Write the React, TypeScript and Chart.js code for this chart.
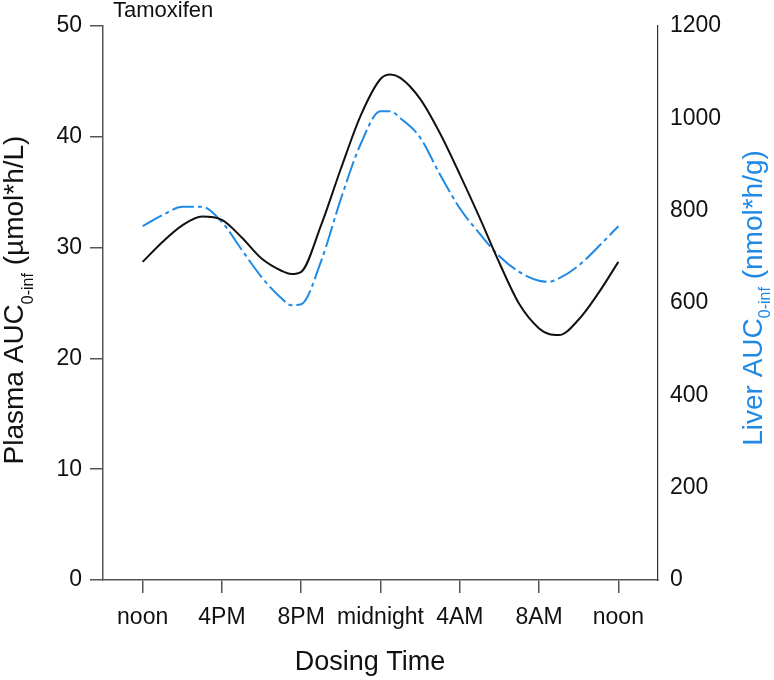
import React, { useEffect, useRef } from "react";
import { Chart, registerables } from "chart.js";

Chart.register(...registerables);

const FONT = "'Liberation Sans', Arial, sans-serif";
const BLUE = "#1f8ae6";

const chartTitle = "Tamoxifen";
const xTitle = "Dosing Time";
const leftTitleParts = [
  { text: "Plasma AUC", sub: false },
  { text: "0-inf", sub: true },
  { text: " (µmol*h/L)", sub: false },
];
const rightTitleParts = [
  { text: "Liver AUC", sub: false },
  { text: "0-inf", sub: true },
  { text: " (nmol*h/g)", sub: false },
];

const xTickHours = [0, 4, 8, 12, 16, 20, 24];
const xTickLabels = ["noon", "4PM", "8PM", "midnight", "4AM", "8AM", "noon"];

const hours = [0, 1, 2, 3, 4, 5, 6, 7, 7.5, 8, 9, 10, 11, 12, 12.5, 13, 14, 15, 16, 17, 18, 19, 20, 20.5, 21, 22, 23, 24];
const plasmaAUC = [28.7, 30.5, 32.0, 32.8, 32.5, 30.9, 29.0, 27.9, 27.6, 27.8, 32.0, 37.1, 41.9, 45.2, 45.6, 45.3, 43.4, 40.3, 36.6, 32.7, 28.6, 24.9, 22.7, 22.2, 22.1, 23.5, 25.9, 28.7];
const liverAUC = [766, 790, 808, 808, 775, 715, 656, 610, 595, 597, 690, 825, 944, 1015, 1015, 1000, 958, 878, 805, 750, 701, 667, 648, 646, 653, 681, 722, 766];

function drawRotated(ctx: CanvasRenderingContext2D, parts: { text: string; sub: boolean }[], baseX: number, centerY: number, color: string, mainSize: number, subSize: number, subOffset: number) {
  ctx.save();
  ctx.fillStyle = color;
  ctx.textBaseline = "alphabetic";
  ctx.textAlign = "left";
  const widths = parts.map((p) => {
    ctx.font = `${p.sub ? subSize : mainSize}px ${FONT}`;
    return ctx.measureText(p.text).width;
  });
  const total = widths.reduce((a, b) => a + b, 0);
  ctx.translate(baseX, centerY);
  ctx.rotate(-Math.PI / 2);
  let cur = -total / 2;
  parts.forEach((p, i) => {
    ctx.font = `${p.sub ? subSize : mainSize}px ${FONT}`;
    ctx.fillText(p.text, cur, p.sub ? subOffset : 0);
    cur += widths[i];
  });
  ctx.restore();
}

const titlePlugin = {
  id: "customTitles",
  afterDraw(chart: any) {
    const ctx: CanvasRenderingContext2D = chart.ctx;
    ctx.save();
    ctx.fillStyle = "#111";
    ctx.textBaseline = "alphabetic";
    ctx.textAlign = "left";
    ctx.font = `22px ${FONT}`;
    ctx.fillText(chartTitle, 113, 17);
    ctx.font = `27px ${FONT}`;
    ctx.textAlign = "center";
    ctx.fillText(xTitle, 370, 670);
    ctx.restore();
    drawRotated(ctx, leftTitleParts, 22.5, 300, "#111", 28, 16, 10);
    drawRotated(ctx, rightTitleParts, 762, 298, BLUE, 28, 16, 8);
  },
};

export default function App() {
  const ref = useRef<HTMLCanvasElement | null>(null);
  useEffect(() => {
    if (!ref.current) return;
    const chart = new Chart(ref.current, {
      type: "line",
      data: {
        datasets: [
          {
            label: "Plasma",
            data: hours.map((h, i) => ({ x: h, y: plasmaAUC[i] })),
            borderColor: "#111",
            borderWidth: 2,
            pointRadius: 0,
            cubicInterpolationMode: "monotone",
            yAxisID: "y",
            fill: false,
          },
          {
            label: "Liver",
            data: hours.map((h, i) => ({ x: h, y: liverAUC[i] })),
            borderColor: BLUE,
            borderWidth: 2,
            borderDash: [22, 4, 4, 4],
            pointRadius: 0,
            cubicInterpolationMode: "monotone",
            yAxisID: "y2",
            fill: false,
          },
        ],
      },
      options: {
        animation: false,
        responsive: false,
        devicePixelRatio: 1,
        layout: { padding: { top: 25, left: 0, right: 0, bottom: 0 } },
        plugins: { legend: { display: false }, tooltip: { enabled: false }, title: { display: false } },
        scales: {
          x: {
            type: "linear",
            min: -2,
            max: 26,
            afterBuildTicks: (s: any) => {
              s.ticks = xTickHours.map((v) => ({ value: v }));
            },
            afterFit: (s: any) => {
              s.height = 100;
            },
            ticks: {
              autoSkip: false,
              maxRotation: 0,
              padding: 11,
              color: "#111",
              font: { family: FONT, size: 23 },
              callback: (v: any) => xTickLabels[xTickHours.indexOf(Number(v))],
            },
            grid: { drawOnChartArea: false, tickLength: 13, color: "#555", lineWidth: 1.5 },
            border: { color: "#555", width: 1.5 },
          },
          y: {
            position: "left",
            min: 0,
            max: 50,
            afterFit: (s: any) => {
              s.width = 103;
            },
            ticks: { stepSize: 10, padding: 8, color: "#111", font: { family: FONT, size: 23 }, callback: (v: any) => String(v) },
            grid: { drawOnChartArea: false, tickLength: 13, color: "#555", lineWidth: 1.5 },
            border: { color: "#555", width: 1.5 },
          },
          y2: {
            position: "right",
            min: 0,
            max: 1200,
            afterFit: (s: any) => {
              s.width = 116;
            },
            ticks: { stepSize: 200, padding: 12, color: "#111", font: { family: FONT, size: 23 }, callback: (v: any) => String(v) },
            grid: { display: false, drawTicks: false },
            border: { color: "#333", width: 1.2 },
          },
        },
      },
      plugins: [titlePlugin],
    });
    return () => chart.destroy();
  }, []);
  return (
    <div style={{ position: "absolute", left: 0, top: 0, width: 774, height: 680, background: "#fff" }}>
      <canvas ref={ref} width={774} height={680} style={{ width: 774, height: 680, display: "block" }} />
    </div>
  );
}
